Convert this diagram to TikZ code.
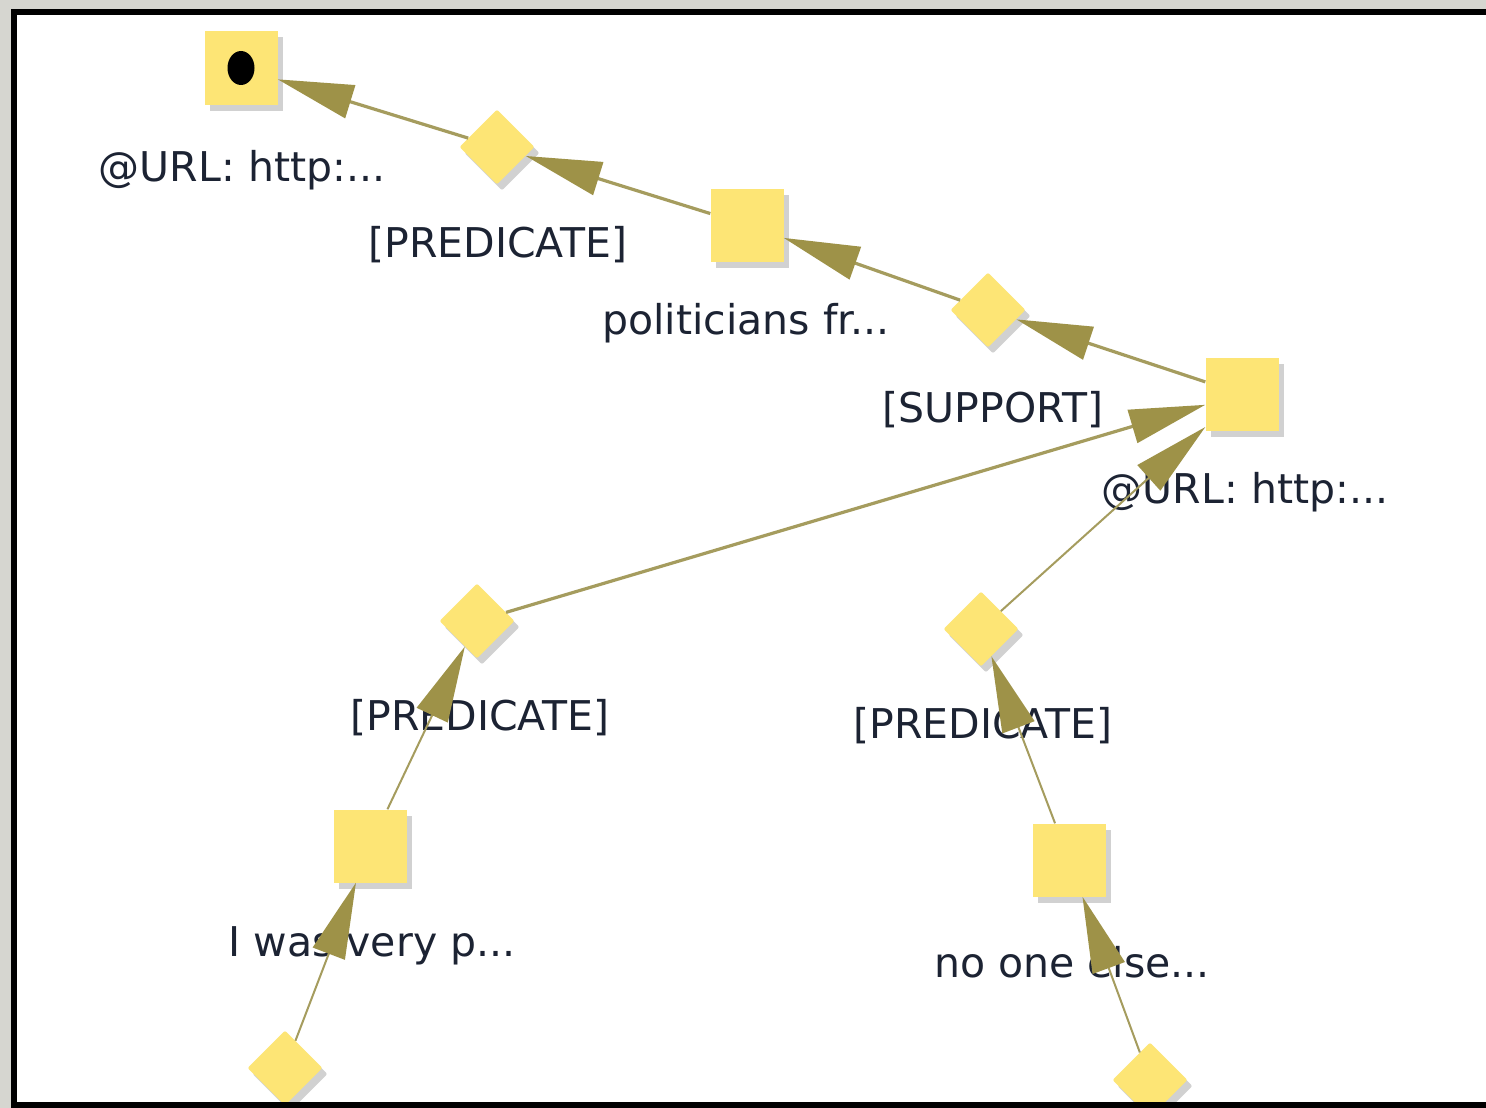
\documentclass[tikz,border=0pt]{standalone}
\usepackage{fontspec}
\setmainfont{DejaVu Sans}
\usetikzlibrary{shapes.geometric,arrows.meta,shadows}
\definecolor{nodey}{HTML}{FDE575}
\definecolor{edgec}{HTML}{A59C5E}
\definecolor{tipc}{HTML}{9E9248}
\definecolor{txtc}{HTML}{1C2333}
\definecolor{bgc}{HTML}{D6D6D0}
\tikzset{
  sq/.style={rectangle, fill=nodey, minimum width=73pt, minimum height=73pt, inner sep=0pt,
    drop shadow={shadow xshift=5pt, shadow yshift=-6pt, fill=black, opacity=0.18}},
  dia/.style={diamond, fill=nodey, minimum width=75pt, minimum height=75pt, inner sep=0pt,
    rounded corners=2pt,
    drop shadow={shadow xshift=5pt, shadow yshift=-6pt, fill=black, opacity=0.18}},
  lbl/.style={text=txtc, font=\fontsize{41}{47}\selectfont, inner sep=0pt},
  link/.style={draw=edgec, line width=3.2pt,
    -{Triangle[length=76pt, width=34pt, fill=tipc, color=tipc]}},
  thinlink/.style={link, line width=2pt}
}
\begin{document}
\begin{tikzpicture}[x=1pt, y=-1pt]
\useasboundingbox (0,0) rectangle (1486,1108);
\fill[bgc] (0,0) rectangle (1486,1108);
\fill[white] (14,12) rectangle (1486,1104);
\begin{scope}
\clip (14,12) rectangle (1486,1104);
% labels
\node[lbl] (l1) at (242,170) {@URL: http:...};
\node[lbl] (l2) at (498,245) {[PREDICATE]};
\node[lbl] (l3) at (746,323) {politicians fr...};
\node[lbl] (l4) at (993,410) {[SUPPORT]};
\node[lbl] (l5) at (1245,492) {@URL: http:...};
\node[lbl] (l6) at (480,718) {[PREDICATE]};
\node[lbl] (l7) at (983,726) {[PREDICATE]};
\node[lbl] (l8) at (372,946) {I was very p...};
\node[lbl] (l9) at (1072,962) {no one else...};
% nodes
\node[sq] (n1) at (241,68) {};
\node[ellipse, fill=black, minimum width=27pt, minimum height=34pt, inner sep=0pt] (dot) at (241,68) {};
\node[dia] (d1) at (497,147) {};
\node[sq] (s2) at (747,225) {};
\node[dia] (d2) at (988,310) {};
\node[sq] (s3) at (1242,394) {};
\node[dia] (d3) at (477,621) {};
\node[dia] (d4) at (981,629) {};
\node[sq] (s4) at (370,846) {};
\node[sq] (s5) at (1069,860) {};
\node[dia] (d5) at (285,1068) {};
\node[dia] (d6) at (1150,1080) {};
% edges
\draw[link] (d1) -- (n1);
\draw[link] (s2) -- (d1);
\draw[link] (d2) -- (s2);
\draw[link] (s3) -- (d2);
\draw[link] (d3) -- (s3);
\draw[thinlink] (d4) -- (s3);
\draw[thinlink] (s4) -- (d3);
\draw[thinlink] (s5) -- (d4);
\draw[thinlink] (d5) -- (s4);
\draw[thinlink] (d6) -- (s5);
\end{scope}
\draw[black, line width=6pt] (1486,12) -- (14,12) -- (14,1105) -- (1486,1105);
\end{tikzpicture}
\end{document}
